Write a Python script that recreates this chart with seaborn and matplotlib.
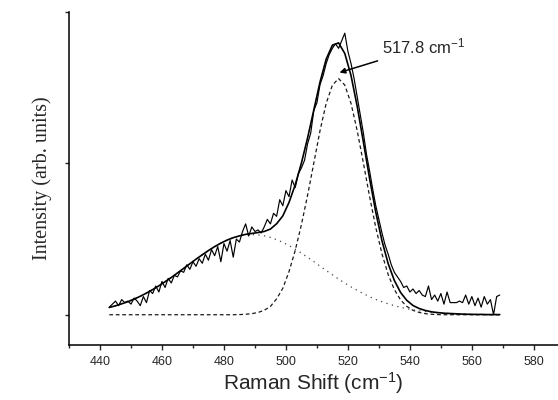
import numpy as np
import pandas as pd
import matplotlib
matplotlib.use("Agg")
import matplotlib.pyplot as plt
from matplotlib import font_manager
from matplotlib.ticker import MultipleLocator
import seaborn as sns

# measured spectrum, 1 cm-1 steps from 443 to 569
data_x = np.arange(443, 570, 1)
data_y = [
    0.05, 0.07, 0.09, 0.06, 0.10, 0.08, 0.09, 0.07, 0.11, 0.09,
    0.06, 0.12, 0.08, 0.16, 0.14, 0.19, 0.15, 0.22, 0.18, 0.24,
    0.21, 0.26, 0.25, 0.29, 0.28, 0.33, 0.30, 0.35, 0.32, 0.37,
    0.34, 0.40, 0.36, 0.43, 0.39, 0.45, 0.35, 0.47, 0.42, 0.49,
    0.38, 0.50, 0.48, 0.55, 0.60, 0.52, 0.58, 0.55, 0.56, 0.54,
    0.58, 0.63, 0.60, 0.67, 0.65, 0.76, 0.72, 0.82, 0.78, 0.89,
    0.84, 0.93, 0.97, 1.02, 1.13, 1.20, 1.35, 1.40, 1.52, 1.58,
    1.66, 1.72, 1.76, 1.79, 1.76, 1.81, 1.86, 1.74, 1.66, 1.56,
    1.44, 1.32, 1.20, 1.06, 0.95, 0.83, 0.72, 0.63, 0.54, 0.46,
    0.40, 0.33, 0.28, 0.25, 0.22, 0.18, 0.19, 0.15, 0.17, 0.14,
    0.16, 0.13, 0.12, 0.19, 0.10, 0.13, 0.09, 0.14, 0.07, 0.15,
    0.08, 0.08, 0.08, 0.09, 0.08, 0.13, 0.07, 0.12, 0.06, 0.11,
    0.05, 0.12, 0.07, 0.10, 0.00, 0.12, 0.13,
]

# fitted curves, 2 cm-1 steps from 443 to 569
fit_x = np.arange(443, 570, 2)
fit_total = [
    0.048, 0.059, 0.072, 0.086, 0.103, 0.122, 0.143, 0.166,
    0.191, 0.218, 0.246, 0.276, 0.306, 0.337, 0.367, 0.396,
    0.424, 0.450, 0.473, 0.493, 0.509, 0.521, 0.531, 0.537,
    0.543, 0.550, 0.566, 0.601, 0.653, 0.742, 0.858, 1.002,
    1.169, 1.353, 1.537, 1.689, 1.781, 1.796, 1.726, 1.581,
    1.377, 1.141, 0.900, 0.677, 0.488, 0.337, 0.226, 0.147,
    0.095, 0.061, 0.041, 0.028, 0.019, 0.014, 0.010, 0.008,
    0.006, 0.004, 0.003, 0.002, 0.002, 0.001, 0.001, 0.001,
]
# crystalline peak (dashed)
fit_c = [
    0, 0, 0, 0, 0, 0, 0, 0,
    0, 0, 0, 0, 0, 0, 0, 0,
    0, 0, 0, 0, 0, 0.001, 0.003, 0.007,
    0.015, 0.029, 0.055, 0.105, 0.175, 0.285, 0.425, 0.595,
    0.790, 1.002, 1.216, 1.397, 1.517, 1.560, 1.517, 1.397,
    1.216, 1.002, 0.781, 0.576, 0.402, 0.265, 0.166, 0.098,
    0.055, 0.029, 0.015, 0.007, 0.003, 0.001, 0, 0,
    0, 0, 0, 0, 0, 0, 0, 0,
]
# amorphous band (dotted)
fit_a = [
    0.048, 0.059, 0.072, 0.086, 0.103, 0.122, 0.143, 0.166,
    0.191, 0.218, 0.246, 0.276, 0.306, 0.337, 0.367, 0.396,
    0.424, 0.450, 0.473, 0.493, 0.509, 0.520, 0.528, 0.530,
    0.528, 0.521, 0.511, 0.496, 0.478, 0.457, 0.433, 0.407,
    0.379, 0.351, 0.321, 0.292, 0.264, 0.236, 0.209, 0.184,
    0.161, 0.139, 0.119, 0.101, 0.086, 0.072, 0.060, 0.049,
    0.040, 0.032, 0.026, 0.021, 0.016, 0.013, 0.010, 0.008,
    0.006, 0.004, 0.003, 0.002, 0.002, 0.001, 0.001, 0.000,
]

peak_label = "517.8 cm$^{-1}$"
peak_pos = (517.3, 1.60)

sns.set_style("ticks")
plt.rcParams["font.family"] = ["Liberation Sans", "DejaVu Sans"]
plt.rcParams["mathtext.fontset"] = "custom"
plt.rcParams["mathtext.rm"] = "Liberation Sans"
plt.rcParams["mathtext.it"] = "Liberation Sans:italic"

names = {f.name for f in font_manager.fontManager.ttflist}
tick_font = "Liberation Sans Narrow" if "Liberation Sans Narrow" in names else "Liberation Sans"

fig = plt.figure(figsize=(5.58, 4.0), dpi=100)
ax = fig.add_axes([69 / 558, 55 / 400, 489 / 558, 333 / 400])

sns.lineplot(x=fit_x, y=fit_c, ax=ax, color="#1a1a1a", lw=0.9,
             linestyle=(0, (3, 2.2)), estimator=None)
sns.lineplot(x=fit_x, y=fit_a, ax=ax, color="#444444", lw=0.9,
             linestyle=(0, (1, 3.5)), estimator=None)
sns.lineplot(x=data_x, y=data_y, ax=ax, color="black", lw=0.85, estimator=None)
sns.lineplot(x=fit_x, y=fit_total, ax=ax, color="black", lw=1.2, estimator=None)

ax.annotate(peak_label, xy=peak_pos, xytext=(530.9, 1.77), fontsize=12,
            va="center", ha="left",
            arrowprops=dict(arrowstyle="-|>", color="black", lw=1.1,
                            mutation_scale=8, shrinkA=2, shrinkB=0))

ax.set_xlim(430, 587.8)
ax.set_ylim(-0.2, 2.0)
ax.xaxis.set_major_locator(MultipleLocator(20))
ax.xaxis.set_minor_locator(MultipleLocator(10))
ax.set_yticks([0, 1, 2])
ax.set_yticklabels([])
ax.tick_params(axis="x", which="major", length=3.6, width=1.0, pad=4, labelsize=9)
ax.tick_params(axis="x", which="minor", length=2.2, width=1.0)
ax.tick_params(axis="y", which="major", length=3, width=1.0)
for lab in ax.get_xticklabels():
    lab.set_family(tick_font)

sns.despine(ax=ax)
for s in ["left", "bottom"]:
    ax.spines[s].set_linewidth(1.1)
    ax.spines[s].set_color("black")

ax.set_xlabel("Raman Shift (cm$^{-1}$)", fontsize=15, labelpad=2)
ax.set_ylabel("Intensity (arb. units)", fontsize=14.5, labelpad=6,
              family="Liberation Serif")

fig.savefig("out.png", dpi=100)
